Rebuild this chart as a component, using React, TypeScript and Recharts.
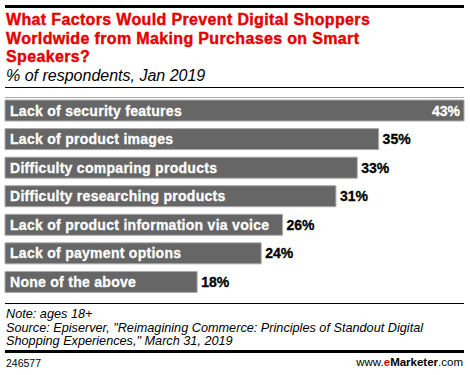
import React from "react";
import { BarChart, Bar, XAxis, YAxis, LabelList } from "recharts";

const categories = [
  "Lack of security features",
  "Lack of product images",
  "Difficulty comparing products",
  "Difficulty researching products",
  "Lack of product information via voice",
  "Lack of payment options",
  "None of the above",
];
const shares = [43, 35, 33, 31, 26, 24, 18];

const chartData = categories.map((name, i) => ({ name, value: shares[i] }));
const maxShare = Math.max(...shares);

const FONT = "'Liberation Sans', Arial, sans-serif";

const NameLabel = (props: any) => {
  const { x, y, height, value } = props;
  return (
    <text
      x={x + 5}
      y={y + height / 2}
      dy="0.36em"
      fill="#fff"
      stroke="#fff"
      strokeWidth={0.3}
      letterSpacing={0.28}
      fontFamily={FONT}
      fontWeight="bold"
      fontSize={14}
    >
      {value}
    </text>
  );
};

const ValueLabel = (props: any) => {
  const { x, y, width, height, value } = props;
  const inside = value === maxShare;
  const color = inside ? "#fff" : "#000";
  return (
    <text
      x={inside ? x + width - 4 : x + width + 4}
      y={y + height / 2}
      dy="0.36em"
      textAnchor={inside ? "end" : "start"}
      fill={color}
      stroke={color}
      strokeWidth={0.3}
      fontFamily={FONT}
      fontWeight="bold"
      fontSize={14}
    >
      {value}%
    </text>
  );
};

export default function App() {
  return (
    <div
      style={{
        position: "absolute",
        left: 0,
        top: 0,
        width: 470,
        height: 375,
        background: "#fff",
        fontFamily: FONT,
        overflow: "hidden",
      }}
    >
      <div style={{ position: "absolute", left: 5, top: 5, width: 459, height: 3, background: "#000" }} />
      <div
        style={{
          position: "absolute",
          left: 6,
          top: 11,
          width: 460,
          color: "#e50000",
          fontWeight: "bold",
          fontSize: 16,
          lineHeight: "18.5px",
          letterSpacing: 0.35,
          WebkitTextStroke: "0.4px #e50000",
          whiteSpace: "nowrap",
        }}
      >
        What Factors Would Prevent Digital Shoppers
        <br />
        Worldwide from Making Purchases on Smart
        <br />
        Speakers?
      </div>
      <div
        style={{
          position: "absolute",
          left: 6,
          top: 67,
          fontStyle: "italic",
          fontSize: 16,
          color: "#000",
        }}
      >
        % of respondents, Jan 2019
      </div>
      <div style={{ position: "absolute", left: 5, top: 87, width: 459, height: 1, background: "#000" }} />
      <div style={{ position: "absolute", left: 5, top: 97, width: 459, height: 1, background: "#aaa" }} />

      <div style={{ position: "absolute", left: 0, top: 0 }}>
        <BarChart
          width={470}
          height={375}
          data={chartData}
          layout="vertical"
          margin={{ top: 96, right: 6, bottom: 79, left: 5 }}
        >
          <XAxis type="number" domain={[0, maxShare]} hide />
          <YAxis type="category" dataKey="name" hide />
          <Bar dataKey="value" fill="#666666" stroke="#aaaaaa" strokeWidth={1} barSize={21} isAnimationActive={false}>
            <LabelList dataKey="name" content={NameLabel} />
            <LabelList dataKey="value" content={ValueLabel} />
          </Bar>
        </BarChart>
      </div>

      <div style={{ position: "absolute", left: 5, top: 303, width: 459, height: 1, background: "#000" }} />
      <div
        style={{
          position: "absolute",
          left: 6,
          top: 308,
          width: 462,
          fontStyle: "italic",
          fontSize: 12.7,
          lineHeight: "13.5px",
          color: "#000",
          whiteSpace: "nowrap",
        }}
      >
        Note: ages 18+
        <br />
        Source: Episerver, "Reimagining Commerce: Principles of Standout Digital
        <br />
        Shopping Experiences," March 31, 2019
      </div>
      <div style={{ position: "absolute", left: 5, top: 350, width: 459, height: 3, background: "#000" }} />
      <div style={{ position: "absolute", left: 6, top: 357, fontSize: 10.5, color: "#000" }}>246577</div>
      <div style={{ position: "absolute", right: 7, top: 356, fontSize: 11.5, color: "#000" }}>
        www.<span style={{ color: "#e50000", fontWeight: "bold" }}>e</span>
        <span style={{ fontWeight: "bold" }}>Marketer</span>.com
      </div>
    </div>
  );
}
